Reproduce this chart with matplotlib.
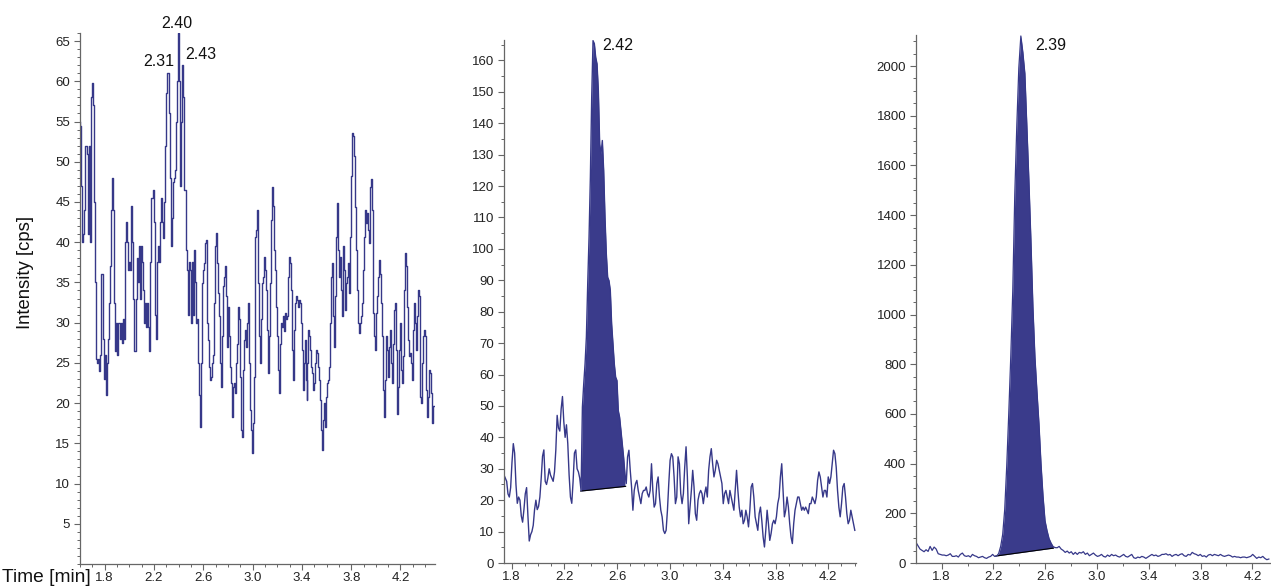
import numpy as np
import matplotlib
matplotlib.use("Agg")
import matplotlib.pyplot as plt
from matplotlib.ticker import MultipleLocator, FixedLocator, FormatStrFormatter

plt.rcParams['font.family'] = ['Liberation Sans', 'DejaVu Sans']

# ---------------- data ----------------
# Panel 1 (noise trace, three segments with their time spans)
p1_seg_a = [55, 54.5, 47, 40, 41, 44, 52, 51, 41, 52,
            40, 58, 59.8, 57, 45, 35, 25.5, 25, 25.5, 24,
            26, 36, 28, 23, 26, 21, 25, 28, 32.5, 37,
            44, 48, 44, 32.5, 26.5, 30, 26, 30, 28, 30,
            27.5, 30.5, 28, 40, 42.5, 40, 36.5, 37.5, 36.5, 44.5,
            40, 33, 26.5, 33, 38, 35, 39.5, 33, 39.5, 37.5,
            34, 30, 32.5, 29.5, 32.5, 29.5, 26.5, 37.5, 45.5, 46.5,
            42.5, 31, 28, 37.5, 39.5, 37.5, 42.5, 45.5, 42.5, 40.5,
            45, 52, 58.5, 61, 56, 48, 39.5, 43, 47.5, 48,
            49, 55, 60, 66, 60, 47, 55, 62, 58, 46.5,
            39, 36.5, 31, 37.5, 36.5, 30, 37.5, 31, 39, 35,
            30, 30.5, 25, 21]
p1_seg_b = [17, 25, 34.9, 36.6, 37.4, 39.9, 40.3, 29.9, 27.8, 24.5,
            22.9, 23.3, 25, 26, 32.4, 39.5, 41.1, 37.4, 33.7, 30.8,
            25, 22, 28.3, 34.5, 35.7, 37, 33.3, 27, 32, 28.3,
            24.5, 22.5, 18.3, 22, 22.5, 21.2, 25, 27.4, 32, 30.4,
            23.3, 16.7, 15.8, 24.1, 27.8, 29.1, 27, 29.9, 32.4, 25,
            19.2, 16.7, 13.8, 17.5, 23.3, 40.7, 41.5, 44, 34.9, 28.3,
            25, 30.4, 34.9, 35.7, 38.2, 36.6, 34.1, 29.1, 23.7, 28.3,
            34.9, 42.8, 46.9, 44.5, 39, 36.6, 32, 28.3, 24.1, 21.2,
            27.4, 29.9, 29.5, 30.8, 29, 31.2, 30.5, 30.8, 35.7, 38.2,
            37.4, 34.1, 26.6, 22.9, 29.1, 32.4, 33.3, 32.8, 32, 32.8,
            32.4, 29.9, 26.6, 21.6, 25, 27.8, 22.9, 20.4, 25, 29.1,
            28.3, 26.6, 24.5, 23.7, 21.6, 22.5, 25, 26.6]
p1_seg_c = [26.2, 24.5, 22.9, 20.4, 16.7, 14.2, 17.9, 20, 17, 20.8,
            22.5, 22.9, 24.5, 29.9, 35.7, 37.4, 30.8, 27, 33.3, 40.7,
            44.9, 39, 35.7, 38.2, 34.1, 30.8, 39.5, 36.6, 31.6, 34.9,
            35.7, 37.4, 33.7, 40.7, 48.2, 53.6, 53.2, 50.7, 44.4, 39,
            34.1, 29.9, 28.7, 29.9, 30.8, 32.4, 36.6, 40.7, 44, 42.4,
            43.6, 41.5, 39.9, 46.9, 47.8, 44, 31.2, 28.3, 26.6, 31.2,
            33.3, 35.7, 37.8, 36.1, 32.4, 28.3, 21.6, 18.3, 22.9, 28.3,
            26.6, 23.3, 27, 29.1, 25, 22.5, 27.4, 31.6, 32.4, 26.6,
            18.7, 22, 26.6, 29.9, 24.1, 22.5, 25.8, 34.1, 38.7, 37,
            32, 27.8, 25.8, 26.2, 25, 22.9, 29.1, 32.4, 29.9, 26.6,
            30.8, 34.1, 33.3, 20.8, 20, 25, 28.3, 29.1, 28.3, 21.6,
            18.3, 20.8, 24.1, 23.7, 21.2, 17.5, 19.6]
p1_seg_spans = [(1.597, 2.573), (2.581, 3.522), (3.530, 4.468)]
p1_peak_labels = ["2.31", "2.40", "2.43"]

# Panel 2
p2_pre = [28, 27, 26, 22, 21, 24, 32, 38, 35, 25,
          19, 21, 20, 15, 13, 17, 22, 24, 15, 7,
          9, 10, 12, 17, 20, 17, 18, 21, 27, 34,
          36, 26, 25, 27, 30, 28, 27, 26, 29, 36,
          47, 43, 42, 49, 53, 45, 40, 44, 38, 28,
          21, 19, 26, 35, 36, 30, 29, 27]
p2_peak = [23, 49.6, 57, 63.4, 72, 88.9, 103.7, 122.8, 148.3, 166.3,
           165.3, 161, 158.9, 150.4, 133.4, 130.2, 134.5, 125, 110, 98.4,
           91, 89.9, 86.8, 76.1, 69.8, 63.4, 59.2, 58.1, 48.5, 46.4,
           42.2, 38, 33.7, 28.4]
p2_post = [25.3, 33.8, 35.9, 29.5, 24.2, 16.8, 23.1, 25.3, 26.3, 23.1,
           21, 18.9, 22.1, 23.1, 23.1, 24.2, 22.1, 21, 23.1, 31.6,
           23.1, 17.8, 18.9, 25.3, 27.4, 21, 16.8, 14.7, 10.4, 9.4,
           10.4, 16.8, 25.3, 32.7, 34.8, 33.8, 27.4, 18.9, 21, 33.8,
           31.6, 22.1, 18.9, 22.1, 30.5, 37, 27.4, 12.5, 17.8, 23.1,
           29.5, 24.2, 15.7, 13.6, 20, 22.1, 23.1, 22.1, 18.9, 22.1,
           24.2, 21, 29.5, 33.8, 36.4, 31.6, 27.4, 29.5, 32.7, 31.6,
           29.5, 27.4, 25.3, 18.9, 22.1, 23.1, 21, 18.9, 23.1, 21,
           18.9, 16.8, 23.1, 29.5, 23.1, 17.8, 14.7, 16.8, 12.5, 13.6,
           16.8, 14.7, 11.5, 16.8, 24.2, 25.3, 21, 14.7, 12.5, 10.4,
           15.7, 17.8, 13.6, 8.3, 5.1, 10.4, 16.8, 12.5, 7.2, 9.4,
           12.5, 13.6, 12.5, 14.7, 18.9, 21, 27.4, 31.6, 23.1, 14.7,
           16.8, 21, 17.8, 12.5, 8.3, 6.2, 12.5, 16.8, 18.9, 21,
           21, 18.9, 16.8, 17.8, 16.8, 17.8, 16.8, 15.7, 18.9, 18.9,
           21, 20, 18.9, 21, 26.3, 29, 27.4, 24.2, 21, 23.1,
           23.1, 21, 27.4, 25.3, 27.4, 31.6, 35.9, 34.8, 30.5, 23.1,
           17.8, 14.7, 18.9, 24.2, 25.3, 21, 15.7, 12.5, 13.6, 16.8,
           14.7, 12.5, 10.4]
p2_time_span = (1.742, 4.401)
p2_integration = (2.323, 2.664)
p2_baseline = (22.9, 24.4)
p2_peak_label = "2.42"

# Panel 3
p3_pre = [82.8, 69.4, 56, 50.7, 45.4, 53.4, 46.7, 66.8, 50.7, 64.1,
          56, 37.3, 34.6, 32, 32, 29.3, 32, 37.3, 26.6, 26.6,
          29.3, 23.9, 34.6, 40, 29.3, 26.6, 29.3, 23.9, 34.6, 29.3,
          26.6, 21.3, 23.9, 26.6, 21.3, 18.6, 23.9, 26.6, 34.6, 26.6]
p3_peak = [28, 38, 67, 115, 215, 390, 600, 829, 1097, 1485,
           1760, 1993, 2121, 2055, 1970, 1760, 1540, 1300, 1030, 829,
           690, 560, 400, 270, 170, 130, 98, 80, 66, 62]
p3_post = [61.4, 66.8, 56, 50.7, 42.7, 48, 40, 45.4, 34.6, 42.7,
           34.6, 42.7, 40, 45.4, 34.6, 40, 29.3, 34.6, 40, 32,
           26.6, 29.3, 34.6, 26.6, 23.9, 32, 26.6, 34.6, 29.3, 32,
           26.6, 23.9, 29.3, 34.6, 26.6, 23.9, 29.3, 34.6, 21.3, 18.6,
           23.9, 21.3, 26.6, 23.9, 18.6, 23.9, 29.3, 34.6, 29.3, 32,
           26.6, 29.3, 34.6, 34.6, 37.3, 32, 34.6, 26.6, 32, 34.6,
           29.3, 34.6, 37.3, 29.3, 26.6, 34.6, 32, 42.7, 37.3, 34.6,
           29.3, 34.6, 26.6, 29.3, 23.9, 32, 34.6, 29.3, 34.6, 32,
           29.3, 34.6, 29.3, 26.6, 29.3, 32, 29.3, 23.9, 26.6, 23.9,
           23.9, 21.3, 23.9, 23.9, 21.3, 23.9, 26.6, 34.6, 26.6, 18.6,
           23.9, 21.3, 26.6, 18.6, 13.3, 16]
p3_time_span = (1.602, 4.327)
p3_integration = (2.218, 2.664)
p3_baseline = (28, 60)
p3_peak_label = "2.39"

x_tick_labels = [1.8, 2.2, 2.6, 3.0, 3.4, 3.8, 4.2]

# ---------------- style ----------------
W, H, DPI = 1271, 586, 100
LINE = '#363889'
FILL = '#3a3b8b'
SPINE = '#666666'

fig = plt.figure(figsize=(W / DPI, H / DPI), dpi=DPI)


def px_axes(l, t, r, b):
    return fig.add_axes([l / W, 1 - b / H, (r - l) / W, (b - t) / H])


def style(ax, xlim, ylim, ymaj, ymin, xminor, yticks=None):
    ax.set_xlim(*xlim)
    ax.set_ylim(*ylim)
    for s in ('top', 'right'):
        ax.spines[s].set_visible(False)
    for s in ('left', 'bottom'):
        ax.spines[s].set_color(SPINE)
        ax.spines[s].set_linewidth(0.9)
    ax.xaxis.set_major_locator(FixedLocator(x_tick_labels))
    ax.xaxis.set_minor_locator(MultipleLocator(xminor))
    ax.xaxis.set_major_formatter(FormatStrFormatter('%.1f'))
    if yticks is not None:
        ax.yaxis.set_major_locator(FixedLocator(yticks))
    else:
        ax.yaxis.set_major_locator(MultipleLocator(ymaj))
    ax.yaxis.set_minor_locator(MultipleLocator(ymin))
    ax.tick_params(which='major', direction='out', length=4, width=0.8,
                   color=SPINE, labelsize=9.5, labelcolor='#222222', pad=2)
    ax.tick_params(which='minor', direction='out', length=2, width=0.7,
                   color=SPINE)
    ax.tick_params(axis='y', which='major', pad=3)


def peak_index(t, v, t0, win=0.02):
    m = (t > t0 - win) & (t < t0 + win)
    idx = np.where(m)[0]
    return idx[np.argmax(v[idx])]


# ---- Panel 1 ----
ax1 = px_axes(80, 33, 435, 564)
t1 = np.concatenate([np.linspace(a, b, len(s)) for (a, b), s in
                     zip(p1_seg_spans, [p1_seg_a, p1_seg_b, p1_seg_c])])
v1 = np.array(p1_seg_a + p1_seg_b + p1_seg_c, dtype=float)
ax1.plot(t1, v1, color=LINE, lw=1.0, drawstyle='steps-mid')
style(ax1, (1.6, 4.48), (0, 66), 5, 1, 0.1, yticks=list(range(5, 66, 5)))
offsets1 = {"2.31": ((6, 7), 'right'), "2.40": ((-2, 5), 'center'),
            "2.43": ((2, 6), 'left')}
for lab in p1_peak_labels:
    i = peak_index(t1, v1, float(lab), 0.012)
    (dx, dy), ha = offsets1[lab]
    ax1.annotate(lab, (t1[i], v1[i]), xytext=(dx, dy), textcoords='offset pixels',
                 ha=ha, va='baseline', fontsize=11.5, color='#111111',
                 annotation_clip=False)

# ---- Panel 2 ----
ax2 = px_axes(504, 40, 856, 563)
v2 = np.array(p2_pre + p2_peak + p2_post, dtype=float)
t2 = np.linspace(p2_time_span[0], p2_time_span[1], len(v2))
base2 = np.interp(t2, p2_integration, p2_baseline)
mask2 = (t2 >= p2_integration[0] - 1e-9) & (t2 <= p2_integration[1] + 1e-9)
ax2.fill_between(t2, v2, base2, where=mask2, color=FILL, lw=0)
ax2.plot(p2_integration, p2_baseline, color='black', lw=0.8)
ax2.plot(t2, v2, color=LINE, lw=1.0)
style(ax2, (1.742, 4.41), (0, 166.5), 10, 5, 0.1)
i2 = int(np.argmax(v2))
ax2.annotate(p2_peak_label, (t2[i2], v2[i2]), xytext=(9, -9),
             textcoords='offset pixels', ha='left', va='baseline',
             fontsize=11.5, color='#111111', annotation_clip=False)

# ---- Panel 3 ----
ax3 = px_axes(916, 35, 1270, 563)
v3 = np.array(p3_pre + p3_peak + p3_post, dtype=float)
t3 = np.linspace(p3_time_span[0], p3_time_span[1], len(v3))
base3 = np.interp(t3, p3_integration, p3_baseline)
mask3 = (t3 >= p3_integration[0] - 0.004) & (t3 <= p3_integration[1] + 0.004)
ax3.fill_between(t3, v3, base3, where=mask3, color=FILL, lw=0)
ax3.plot(p3_integration, p3_baseline, color='black', lw=0.8)
ax3.plot(t3, v3, color=LINE, lw=0.9)
style(ax3, (1.602, 4.336), (0, 2125), 200, 50, 0.2)
i3 = int(np.argmax(v3))
ax3.annotate(p3_peak_label, (t3[i3], v3[i3]), xytext=(14, -14),
             textcoords='offset pixels', ha='left', va='baseline',
             fontsize=11.5, color='#111111', annotation_clip=False)

# ---- axis titles ----
fig.text(25 / W, 1 - 272 / H, 'Intensity [cps]', rotation=90, ha='center',
         va='center', fontsize=13.3, color='#111111')
fig.text(2 / W, 1 - 577 / H, 'Time [min]', ha='left', va='center',
         fontsize=13.8, color='#111111')

fig.savefig('out.png', dpi=DPI)
